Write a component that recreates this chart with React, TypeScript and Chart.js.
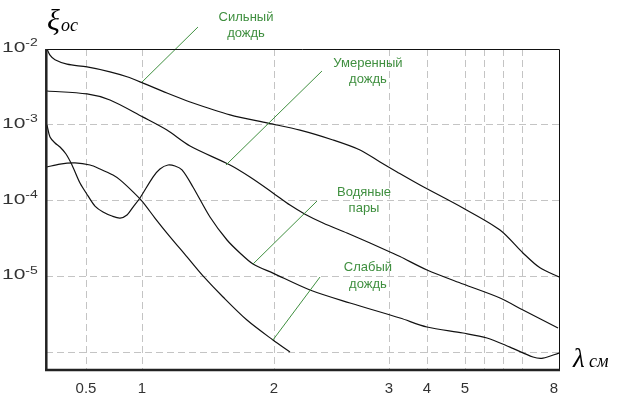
import React, { useEffect, useRef } from 'react';
import { Chart, registerables, LinearScale } from 'chart.js';

// ---------------- DATA ----------------
// Wavelength λ (cm) and attenuation ξ for each curve
const STRONG_RAIN_X = [0.305, 0.32, 0.345, 0.405, 0.509, 0.714, 0.866, 1.008, 1.189, 1.364, 1.667, 1.955, 2.226, 2.513, 2.748, 2.922, 3.211, 3.816, 4.947, 5.921, 6.54, 7.23, 8.0];
const STRONG_RAIN_Y = [1.0e-2, 8.3e-3, 7.2e-3, 6.3e-3, 5.8e-3, 5.0e-3, 4.3e-3, 3.55e-3, 2.62e-3, 2.0e-3, 1.35e-3, 1.05e-3, 8.5e-4, 6.3e-4, 4.65e-4, 3.22e-4, 2.38e-4, 1.6e-4, 7.96e-5, 4.08e-5, 2.03e-5, 1.29e-5, 9.8e-6];

const MODERATE_RAIN_X = [0.305, 0.509, 0.714, 1.008, 1.189, 1.364, 1.667, 1.818, 1.992, 2.139, 2.27, 2.426, 2.635, 2.835, 3.026, 3.289, 4.0, 4.947, 5.921, 6.54, 7.96];
const MODERATE_RAIN_Y = [2.79e-3, 2.55e-3, 2.12e-3, 1.26e-3, 8.5e-4, 5.24e-4, 2.94e-4, 2.04e-4, 1.26e-4, 8.7e-5, 6.6e-5, 5.05e-5, 3.72e-5, 2.75e-5, 2.09e-5, 1.82e-5, 1.21e-5, 7.9e-6, 5.16e-6, 3.58e-6, 2.07e-6];

const WATER_VAPOUR_X = [0.305, 0.32, 0.345, 0.37, 0.4, 0.43, 0.47, 0.518, 0.58, 0.652, 0.732, 0.804, 0.866, 0.92, 0.982, 1.083, 1.136, 1.197, 1.25, 1.303, 1.386, 1.515, 1.644, 1.742, 1.841, 1.992, 2.313, 2.661, 3.289, 4.0, 4.947, 5.579, 6.184, 6.946, 7.351, 8.0];
const WATER_VAPOUR_Y = [9.9e-4, 6.9e-4, 5.74e-4, 5.08e-4, 4.11e-4, 2.94e-4, 1.7e-4, 1.15e-4, 8.45e-5, 7.05e-5, 6.24e-5, 5.87e-5, 6.44e-5, 8.2e-5, 1.08e-4, 2.04e-4, 2.61e-4, 2.94e-4, 2.85e-4, 2.53e-4, 1.51e-4, 6.05e-5, 3.01e-5, 2.03e-5, 1.45e-5, 1.1e-5, 6.58e-6, 4.43e-6, 2.81e-6, 2.14e-6, 1.78e-6, 1.53e-6, 1.16e-6, 8.6e-7, 8.3e-7, 9.7e-7];

const LIGHT_RAIN_X = [0.305, 0.37, 0.445, 0.536, 0.625, 0.741, 0.804, 0.92, 1.0, 1.098, 1.189, 1.341, 1.462, 1.614, 1.795, 1.992, 2.139];
const LIGHT_RAIN_Y = [2.77e-4, 3.03e-4, 3.13e-4, 2.94e-4, 2.61e-4, 2.17e-4, 1.87e-4, 1.3e-4, 9.8e-5, 5.87e-5, 3.72e-5, 1.8e-5, 1.01e-5, 5.32e-6, 2.64e-6, 1.44e-6, 1.0e-6];

// Ticks
const X_TICK_VALUES = [0.5, 1, 2, 3, 4, 5, 8];
const X_TICK_LABELS = ['0.5', '1', '2', '3', '4', '5', '8'];
const X_GRID_VALUES = [0.5, 1, 2, 3, 4, 5, 5.5, 6, 6.5];
const Y_TICK_VALUES = [1e-2, 1e-3, 1e-4, 1e-5];
const Y_TICK_EXPONENTS = ['-2', '-3', '-4', '-5'];
const Y_GRID_VALUES = [1e-3, 1e-4, 1e-5, 1e-6];

// Annotations (curve names, pointer ends and label anchors in data units)
const LABEL_LINES = [['Сильный', 'дождь'], ['Умеренный', 'дождь'], ['Водяные', 'пары'], ['Слабый', 'дождь']];
const POINTER_FROM_X = [1.0, 1.636, 1.841, 1.992];
const POINTER_FROM_Y = [3.66e-3, 2.94e-4, 1.45e-5, 1.44e-6];
const POINTER_TO_X = [1.424, 2.417, 2.374, 2.4];
const POINTER_TO_Y = [1.95e-2, 5.12e-3, 9.84e-5, 9.77e-6];
const LABEL_X = [1.788, 2.817, 2.783, 2.817];
const LABEL_Y = [2.64e-2, 6.53e-3, 1.28e-4, 1.29e-5];

// ---------------- SCALE CONFIG ----------------
// The wavelength axis of the original figure is non-uniform: piecewise linear between knots.
const X_KNOTS = [0.3, 0.5, 1, 2, 3, 4, 5, 5.5, 6, 6.5, 8];
const X_SEGMENT_WEIGHTS = [40, 56, 132, 115, 38, 38, 19, 19, 19, 37];
const X_KNOT_U: number[] = [0];
X_SEGMENT_WEIGHTS.forEach((w, i) => X_KNOT_U.push(X_KNOT_U[i] + w));
const Y_MIN = Math.pow(10, -6.2376);
const Y_MAX = 1e-2;

function warp(v: number): number {
  const k = X_KNOTS;
  let i = 0;
  if (v <= k[0]) i = 0;
  else if (v >= k[k.length - 1]) i = k.length - 2;
  else while (i < k.length - 2 && v > k[i + 1]) i++;
  const t = (v - k[i]) / (k[i + 1] - k[i]);
  return X_KNOT_U[i] + t * (X_KNOT_U[i + 1] - X_KNOT_U[i]);
}
function unwarp(u: number): number {
  const k = X_KNOT_U;
  let i = 0;
  if (u <= k[0]) i = 0;
  else if (u >= k[k.length - 1]) i = k.length - 2;
  else while (i < k.length - 2 && u > k[i + 1]) i++;
  const t = (u - k[i]) / (k[i + 1] - k[i]);
  return X_KNOTS[i] + t * (X_KNOTS[i + 1] - X_KNOTS[i]);
}

class WarpedScale extends LinearScale {
  static id = 'warped';
  static defaults = {};
  getPixelForValue(value: number) {
    return super.getPixelForValue(warp(value));
  }
  getValueForPixel(pixel: number) {
    return unwarp(super.getValueForPixel(pixel));
  }
}

Chart.register(...registerables, WarpedScale as any);

const GREEN = '#3f8f3f';
const SANS = '"Liberation Sans", Arial, sans-serif';
const SERIF = '"Liberation Serif", "DejaVu Serif", serif';

const overlayPlugin = {
  id: 'overlay',
  afterDatasetsDraw(chart: any) {
    const ctx = chart.ctx;
    const xs = chart.scales.x;
    const ys = chart.scales.y;
    ctx.save();
    ctx.strokeStyle = GREEN;
    ctx.lineWidth = 1;
    for (let i = 0; i < LABEL_LINES.length; i++) {
      ctx.beginPath();
      ctx.moveTo(xs.getPixelForValue(POINTER_FROM_X[i]), ys.getPixelForValue(POINTER_FROM_Y[i]));
      ctx.lineTo(xs.getPixelForValue(POINTER_TO_X[i]), ys.getPixelForValue(POINTER_TO_Y[i]));
      ctx.stroke();
    }
    ctx.fillStyle = GREEN;
    ctx.font = `13px ${SANS}`;
    ctx.textAlign = 'center';
    ctx.textBaseline = 'middle';
    for (let i = 0; i < LABEL_LINES.length; i++) {
      const px = xs.getPixelForValue(LABEL_X[i]);
      const py = ys.getPixelForValue(LABEL_Y[i]);
      LABEL_LINES[i].forEach((line, j) => ctx.fillText(line, px, py + j * 16.5));
    }
    ctx.restore();
  },
  afterDraw(chart: any) {
    const ctx = chart.ctx;
    const { left, right, top, bottom } = chart.chartArea;
    const xs = chart.scales.x;
    const ys = chart.scales.y;
    ctx.save();
    // frame
    ctx.strokeStyle = '#111';
    ctx.lineWidth = 1;
    ctx.beginPath();
    ctx.moveTo(left, top + 0.5);
    ctx.lineTo(right + 0.5, top + 0.5);
    ctx.lineTo(right + 0.5, bottom);
    ctx.stroke();
    ctx.strokeStyle = '#222';
    ctx.lineWidth = 2.5;
    ctx.beginPath();
    ctx.moveTo(left + 0.3, top);
    ctx.lineTo(left + 0.3, bottom + 1.2);
    ctx.moveTo(left - 1, bottom);
    ctx.lineTo(right + 1, bottom);
    ctx.stroke();

    // y tick labels 10^n
    ctx.fillStyle = '#333';
    ctx.textBaseline = 'middle';
    ctx.textAlign = 'left';
    Y_TICK_VALUES.forEach((v, i) => {
      const py = ys.getPixelForValue(v);
      ctx.save();
      ctx.translate(2, py - 1);
      ctx.scale(1.4, 1);
      ctx.font = `15px ${SANS}`;
      ctx.fillText('10', 0, 0);
      const w = ctx.measureText('10').width;
      ctx.font = `10px ${SANS}`;
      ctx.fillText(Y_TICK_EXPONENTS[i], w, -4.5);
      ctx.restore();
    });

    // x tick labels
    ctx.font = `15px ${SANS}`;
    ctx.textAlign = 'center';
    X_TICK_VALUES.forEach((v, i) => {
      let px = xs.getPixelForValue(v);
      if (px > right - 4) px -= 5;
      ctx.fillText(X_TICK_LABELS[i], px, bottom + 19);
    });

    // axis titles
    ctx.fillStyle = '#000';
    ctx.textAlign = 'left';
    ctx.textBaseline = 'alphabetic';
    ctx.font = `italic 30px ${SERIF}`;
    ctx.fillText('ξ', left + 1, 30);
    ctx.font = `italic 18px ${SERIF}`;
    ctx.fillText('ос', left + 15, 31);
    ctx.font = `italic 27px ${SERIF}`;
    ctx.fillText('λ', right + 14, bottom - 3);
    ctx.font = `italic 18px ${SERIF}`;
    ctx.fillText('см', right + 30, bottom - 3);
    ctx.restore();
  },
};

function series(xs: number[], ys: number[]) {
  return xs.map((x, i) => ({ x, y: ys[i] }));
}

export default function App() {
  const ref = useRef<HTMLCanvasElement | null>(null);
  useEffect(() => {
    if (!ref.current) return;
    const lineStyle = {
      borderColor: '#111',
      borderWidth: 1.2,
      pointRadius: 0,
      fill: false,
      tension: 0.3,
    };
    const chart = new Chart(ref.current, {
      type: 'line',
      data: {
        datasets: [
          { label: 'Сильный дождь', data: series(STRONG_RAIN_X, STRONG_RAIN_Y), ...lineStyle },
          { label: 'Умеренный дождь', data: series(MODERATE_RAIN_X, MODERATE_RAIN_Y), ...lineStyle },
          { label: 'Водяные пары', data: series(WATER_VAPOUR_X, WATER_VAPOUR_Y), ...lineStyle },
          { label: 'Слабый дождь', data: series(LIGHT_RAIN_X, LIGHT_RAIN_Y), ...lineStyle },
        ],
      },
      options: {
        responsive: false,
        animation: false,
        events: [],
        layout: { padding: { left: 46, top: 49, right: 64, bottom: 29 } },
        plugins: { legend: { display: false }, tooltip: { enabled: false } },
        scales: {
          x: {
            type: 'warped' as any,
            min: 0,
            max: X_KNOT_U[X_KNOT_U.length - 1],
            bounds: 'data',
            afterBuildTicks: (axis: any) => {
              axis.ticks = X_GRID_VALUES.map((v) => ({ value: v }));
            },
            ticks: { display: false },
            grid: { color: '#c4c4c4', lineWidth: 1, drawTicks: false },
            border: { display: false, dash: [7, 4] },
          },
          y: {
            type: 'logarithmic',
            min: Y_MIN,
            max: Y_MAX,
            bounds: 'data',
            afterBuildTicks: (axis: any) => {
              axis.ticks = Y_GRID_VALUES.map((v) => ({ value: v }));
            },
            ticks: { display: false },
            grid: { color: '#c4c4c4', lineWidth: 1, drawTicks: false },
            border: { display: false, dash: [7, 4] },
          },
        } as any,
      },
      plugins: [overlayPlugin],
    });
    return () => chart.destroy();
  }, []);
  return (
    <div style={{ position: 'fixed', left: 0, top: 0, width: 623, height: 399, background: '#fff' }}>
      <canvas ref={ref} width={623} height={399} style={{ display: 'block' }} />
    </div>
  );
}
